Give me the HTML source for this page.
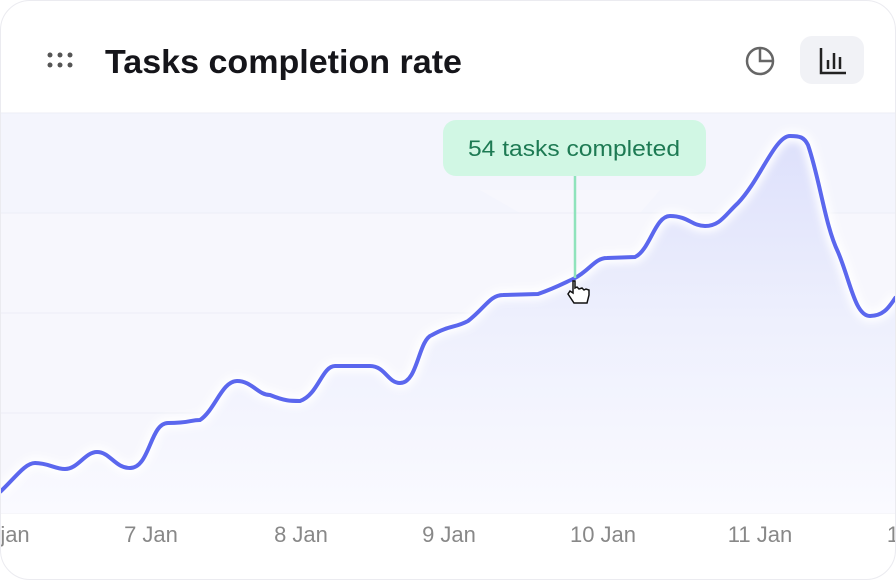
<!DOCTYPE html>
<html><head><style>
body{margin:0;background:#fff;}
.card{position:absolute;left:0;top:0;width:894px;height:578px;border:1px solid #ebebf0;border-radius:30px;overflow:hidden;background:#fff;font-family:"Liberation Sans",sans-serif;}
</style></head><body>
<div class="card">
<svg width="896" height="580" style="position:absolute;left:-1px;top:-1px">
<defs>
<linearGradient id="g" x1="0" y1="0" x2="0" y2="1">
<stop offset="0" stop-color="#dde0fb"/><stop offset="0.5" stop-color="#eef0fd"/><stop offset="1" stop-color="#fafaff"/>
</linearGradient>
<filter id="glow"><feGaussianBlur stdDeviation="4"/></filter>
</defs>
<rect x="0" y="113" width="896" height="400" fill="#f7f7fd"/>
<polygon points="0,213 520,213 480,190 660,190 640,213 896,213 896,113 0,113" fill="#f4f5fd"/>
<g stroke="#eceef6" stroke-width="1">
<line x1="0" y1="113" x2="896" y2="113"/><line x1="0" y1="213" x2="896" y2="213"/>
<line x1="0" y1="313" x2="896" y2="313"/><line x1="0" y1="413" x2="896" y2="413"/>
<line x1="0" y1="513" x2="896" y2="513"/></g>
<path id="ln" d="M0,492 C15,478 25,463 35,463 C48,463 55,469 65,469 C78,469 85,452 97,452 C110,452 115,468 130,468 C150,468 150,423 168,423 C190,423 190,420 200,420 C215,410 222,381 237,381 C252,381 258,395 270,395 C285,401 290,401 300,401 C318,395 322,366 335,366 L370,366 C385,366 388,383 400,383 C418,383 418,340 432,335 C450,325 455,328 468,321 C485,308 490,295 503,295 L538,294 C555,288 560,285 575,278 C590,270 595,258 607,258 L635,257 C650,250 655,216 670,216 C688,216 692,226 705,226 C720,226 725,215 738,203 C760,180 775,136 790,136 C800,136 804,137 808,145 C820,180 825,225 838,252 C850,280 855,316 870,316 C885,316 890,305 896,297" fill="none"/>
<path d="M0,492 C15,478 25,463 35,463 C48,463 55,469 65,469 C78,469 85,452 97,452 C110,452 115,468 130,468 C150,468 150,423 168,423 C190,423 190,420 200,420 C215,410 222,381 237,381 C252,381 258,395 270,395 C285,401 290,401 300,401 C318,395 322,366 335,366 L370,366 C385,366 388,383 400,383 C418,383 418,340 432,335 C450,325 455,328 468,321 C485,308 490,295 503,295 L538,294 C555,288 560,285 575,278 C590,270 595,258 607,258 L635,257 C650,250 655,216 670,216 C688,216 692,226 705,226 C720,226 725,215 738,203 C760,180 775,136 790,136 C800,136 804,137 808,145 C820,180 825,225 838,252 C850,280 855,316 870,316 C885,316 890,305 896,297 L896,513 L0,513 Z" fill="url(#g)"/>
<use href="#ln" stroke="#ffffff" stroke-width="12" filter="url(#glow)"/>
<use href="#ln" stroke="#5b67ee" stroke-width="4"/>
<line x1="575" y1="176" x2="575" y2="278" stroke="#8fe3bc" stroke-width="2.5"/>
<rect x="443" y="120" width="263" height="56" rx="13" fill="#d1f7e4"/>
<text x="468" y="156" textLength="212" lengthAdjust="spacingAndGlyphs" font-family="Liberation Sans" font-size="22" fill="#1d7a53">54 tasks completed</text>
<path d="M573,281 l0,12 -3,-2 -2,3 6,9 13,0 2,-8 0,-5 -3,-1 -2,1 -2,-2 -3,1 -2,-2 -2,1 0,-7 z" fill="#fff" stroke="#111" stroke-width="1.5"/>
<g fill="#555"><circle cx="50" cy="55" r="2.5"/><circle cx="60" cy="55" r="2.5"/><circle cx="70" cy="55" r="2.5"/><circle cx="50" cy="65" r="2.5"/><circle cx="60" cy="65" r="2.5"/><circle cx="70" cy="65" r="2.5"/></g>
<text x="105" y="73" textLength="357" lengthAdjust="spacingAndGlyphs" font-family="Liberation Sans" font-size="33" font-weight="600" fill="#15151a">Tasks completion rate</text>
<circle cx="760" cy="61" r="13" fill="none" stroke="#666" stroke-width="2.5"/>
<path d="M760,48 L760,61 L773,61" fill="none" stroke="#666" stroke-width="2.5"/>
<rect x="800" y="36" width="64" height="48" rx="12" fill="#f1f2f6"/>
<path d="M821,48 L821,73 L846,73 M828,60 V69 M834,53 V69 M840,57 V69" fill="none" stroke="#222" stroke-width="2.5"/>
<g font-family="Liberation Sans" font-size="22" fill="#888" text-anchor="middle">
<text x="15" y="542">jan</text><text x="151" y="542">7 Jan</text><text x="301" y="542">8 Jan</text>
<text x="449" y="542">9 Jan</text><text x="603" y="542">10 Jan</text><text x="760" y="542">11 Jan</text><text x="893" y="542">1</text></g>
</svg>
</div>
</body></html>
